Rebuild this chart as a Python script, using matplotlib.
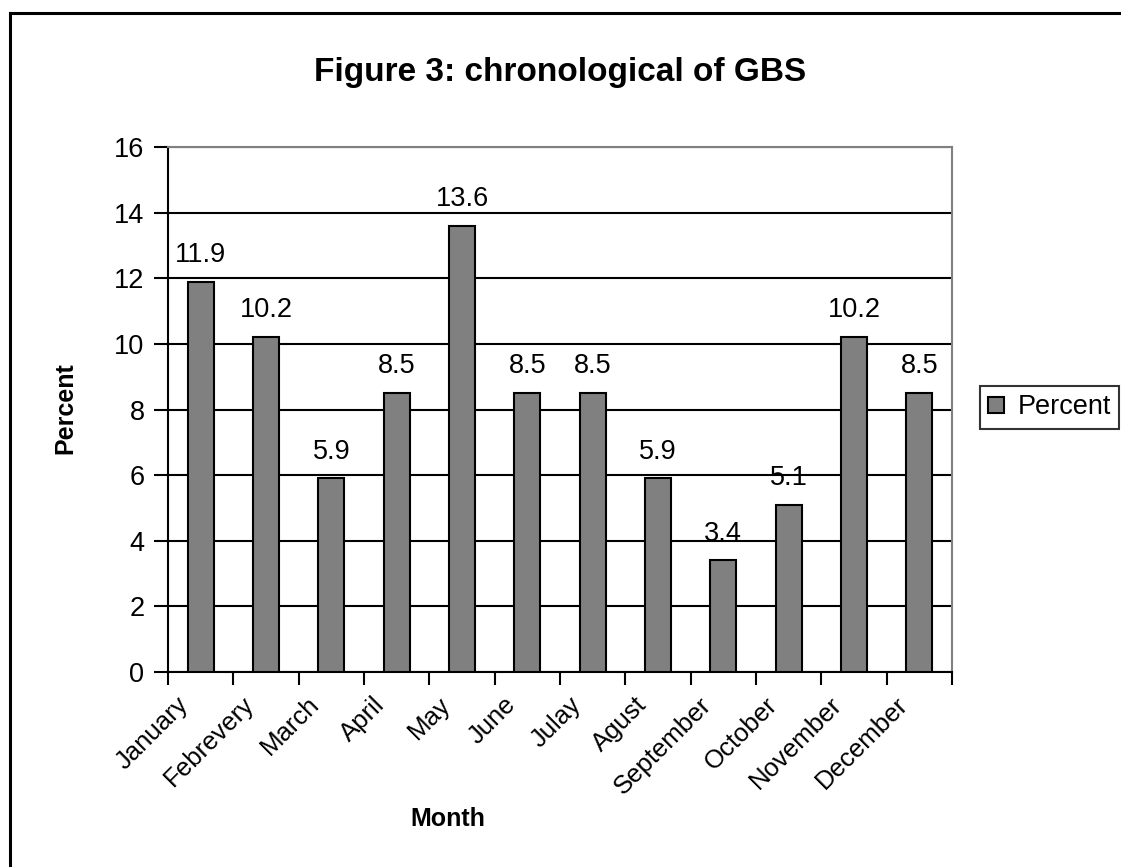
import matplotlib
matplotlib.use("Agg")
import matplotlib.pyplot as plt
import matplotlib.transforms as mtransforms
from matplotlib.lines import Line2D
import numpy as np

plt.rcParams['font.family'] = ['Liberation Sans', 'DejaVu Sans']

# data
months = ["January", "Febrevery", "March", "April", "May", "June",
          "Julay", "Agust", "September", "October", "November", "December"]
percent = [11.9, 10.2, 5.9, 8.5, 13.6, 8.5, 8.5, 5.9, 3.4, 5.1, 10.2, 8.5]
y_ticks = [0, 2, 4, 6, 8, 10, 12, 14, 16]

W, H = 1121, 867
fig = plt.figure(figsize=(W / 100, H / 100), dpi=100)
ax = fig.add_axes([168 / W, 1 - 672 / H, (952 - 168) / W, (672 - 147) / H])

x = np.arange(len(months))
ax.bar(x, percent, width=0.4, color='#808080', edgecolor='black', linewidth=1.5, zorder=3)

# value labels above bars
for xi, v in zip(x, percent):
    ax.annotate(str(v), (xi, v), xytext=(0, 10), textcoords='offset points',
                ha='center', va='bottom', fontsize=19.5, zorder=4)

ax.set_xlim(-0.5, len(months) - 0.5)
ax.set_ylim(0, 16)
ax.set_yticks(y_ticks)
ax.set_yticklabels([str(t) for t in y_ticks], fontsize=19.5)
ax.yaxis.grid(True, color='black', linewidth=1.5, zorder=1)
ax.set_axisbelow(True)

# category labels at centres, tick marks at boundaries
ax.set_xticks(x)
ax.set_xticklabels(months, rotation=45, ha='right', rotation_mode='anchor', fontsize=18.5)
ax.set_xticks(np.arange(-0.5, len(months)), minor=True)
ax.tick_params(axis='x', which='major', length=0, pad=9)
ax.tick_params(axis='x', which='minor', length=9, width=1.5, direction='out')
ax.tick_params(axis='y', length=10, width=1.5, direction='out', pad=7)

# nudge rotated labels left/down like the excel layout
shift = mtransforms.ScaledTranslation(-0.24, -0.08, fig.dpi_scale_trans)
for lbl in ax.get_xticklabels():
    lbl.set_transform(lbl.get_transform() + shift)

for side in ['left', 'bottom']:
    ax.spines[side].set_color('black')
    ax.spines[side].set_linewidth(1.5)
for side in ['top', 'right']:
    ax.spines[side].set_color('#808080')
    ax.spines[side].set_linewidth(1.5)

fig.text(560 / W, 1 - 72 / H, "Figure 3: chronological of GBS", ha='center', va='center',
         fontsize=24, fontweight='bold')
fig.text(448 / W, 1 - 819 / H, "Month", ha='center', va='center', fontsize=18, fontweight='bold')
fig.text(65 / W, 1 - 408 / H, "Percent", ha='center', va='center', rotation=90,
         fontsize=18, fontweight='bold')

leg = fig.legend(["Percent"], loc='center left', bbox_to_anchor=(980 / W, 1 - 407.5 / H),
                 fontsize=19.5, frameon=True, fancybox=False, handlelength=0.6, handleheight=0.55,
                 handletextpad=0.5, borderpad=0.3, borderaxespad=0)
leg.get_frame().set_edgecolor('black')
leg.get_frame().set_linewidth(1.5)

# outer chart border (left and top visible)
fig.add_artist(Line2D([10 / W, 10 / W], [0, 1 - 13 / H], transform=fig.transFigure,
                      color='black', linewidth=2.2))
fig.add_artist(Line2D([10 / W, 1], [1 - 13 / H, 1 - 13 / H], transform=fig.transFigure,
                      color='black', linewidth=2.2))

fig.savefig("out.png", dpi=100)
